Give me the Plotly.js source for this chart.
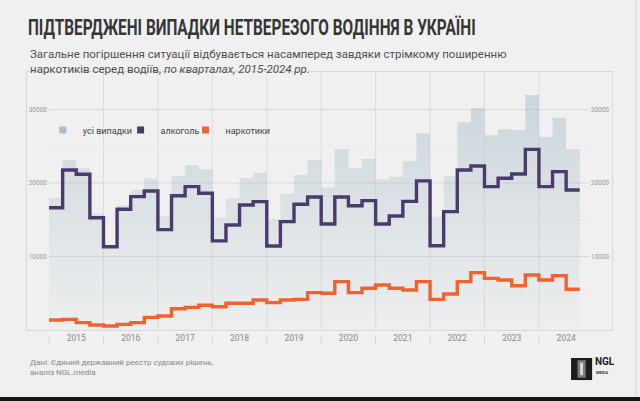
<!DOCTYPE html>
<html><head><meta charset="utf-8">
<script src="https://cdn.plot.ly/plotly-3.0.1.min.js"></script>
<style>html,body{margin:0;padding:0;background:#f0f0f0;} #chart{width:640px;height:401px;}
#chart .gtitle{transform:scaleX(0.70);transform-origin:28px 0px;}
</style>
</head><body><div id="chart"></div>
<script>
const years = ['2015','2016','2017','2018','2019','2020','2021','2022','2023','2024'];
const seriesNames = ['усі випадки', 'алкоголь', 'наркотики'];
// quarterly values, 2015 Q1 ... 2024 Q3
const totalCases = [17950, 23130, 22000, 15870, 11500, 17000, 19050, 20600, 15510, 20950, 22450, 21860,
  15300, 17920, 20640, 21400, 15060, 18550, 21090, 23130, 19410, 24630, 22000, 23270,
  20500, 20860, 22990, 26760, 15400, 20950, 28250, 30160, 26480, 27320, 27210, 31970,
  26300, 28890, 24580];
const alcohol = [16640, 21770, 21180, 15280, 11330, 16420, 18140, 18910, 13650, 18270, 19500, 18600,
  12130, 14290, 17010, 17460, 11430, 14740, 17100, 18100, 14420, 18100, 16900, 17600,
  14420, 15510, 17500, 20290, 11470, 16100, 21770, 22310, 19500, 20640, 21220, 24580,
  19500, 21540, 19050];
const drugs = [1360, 1450, 1000, 680, 540, 770, 1000, 1720, 1900, 2900, 3080, 3360,
  3170, 3630, 3630, 4080, 3720, 4080, 4170, 5080, 4990, 6580, 5080, 5670,
  6120, 5670, 5440, 6580, 4170, 4900, 6580, 7800, 7030, 6800, 6030, 7480,
  6800, 7390, 5540];
const yTicks = [10000, 20000, 30000];
const yMinorTicks = [5000, 15000, 25000];

const QPY = 4;
const stepX = arr => arr.map((_, i) => i).concat([arr.length]);
const stepY = arr => arr.concat([arr[arr.length - 1]]);

const colTotal = '#a9bdc7', colAlc = '#4b3b6c', colDrug = '#f2622e';
const sans = 'Roboto, "Noto Sans", sans-serif';

const traces = [
  {type: 'scatter', mode: 'lines', x: stepX(totalCases), y: stepY(totalCases), line: {shape: 'hv', width: 0},
   fill: 'tozeroy', fillgradient: {type: 'vertical', start: 0, stop: 32000,
     colorscale: [[0, 'rgba(160,185,196,0.03)'], [0.5, 'rgba(160,185,196,0.24)'], [1, 'rgba(160,185,196,0.46)']]},
   showlegend: false, hoverinfo: 'skip'},
  {type: 'scatter', mode: 'lines', x: stepX(alcohol), y: stepY(alcohol), line: {shape: 'hv', width: 3.4, color: colAlc},
   showlegend: false, hoverinfo: 'skip'},
  {type: 'scatter', mode: 'lines', x: stepX(drugs), y: stepY(drugs), line: {shape: 'hv', width: 3.4, color: colDrug},
   showlegend: false, hoverinfo: 'skip'}
];
const legendIds = ['legend', 'legend2', 'legend3'];
[colTotal, colAlc, colDrug].forEach((c, k) => traces.push({type: 'scatter', mode: 'markers', x: [null], y: [null],
  name: seriesNames[k], legend: legendIds[k], marker: {symbol: 'square', size: 7, color: c}, showlegend: true}));

const nQ = totalCases.length;
const shapes = [];
years.slice(1).forEach((_, k) => shapes.push({type: 'line', xref: 'x', yref: 'paper', x0: (k + 1) * QPY, x1: (k + 1) * QPY,
  y0: 0, y1: 1, line: {color: '#dcdcdc', width: 1}, layer: 'below'}));
years.forEach((_, k) => shapes.push({type: 'line', xref: 'x', yref: 'paper', x0: k * QPY, x1: k * QPY,
  y0: -0.023, y1: -0.05, line: {color: '#d0d0d0', width: 1}}));
yTicks.forEach(v => shapes.push({type: 'line', xref: 'x', yref: 'y', x0: 0, x1: nQ + 0.7, y0: v, y1: v,
  line: {color: '#dadada', width: 1}, layer: 'below'}));
yMinorTicks.forEach(v => shapes.push({type: 'line', xref: 'x', yref: 'y', x0: 0, x1: nQ + 0.7, y0: v, y1: v,
  line: {color: '#e4e4e4', width: 1, dash: '4px,4px'}, layer: 'below'}));
// frame edges of the picture
shapes.push({type: 'rect', xref: 'paper', yref: 'paper', x0: -0.05, x1: 1.05, y0: -0.26, y1: -0.3, fillcolor: '#151515', line: {width: 0}});
shapes.push({type: 'line', xref: 'paper', yref: 'paper', x0: 1.041, x1: 1.041, y0: -0.26, y1: 1.3, line: {color: '#d6d6d6', width: 1}});
// logo
shapes.push({type: 'rect', xref: 'paper', yref: 'paper', x0: 0.930, x1: 0.966, y0: -0.194, y1: -0.1085, fillcolor: '#1c1c1c', line: {width: 0}});
shapes.push({type: 'rect', xref: 'paper', yref: 'paper', x0: 0.941, x1: 0.955, y0: -0.185, y1: -0.117, fillcolor: '#7a7a7a', line: {width: 0}});
shapes.push({type: 'rect', xref: 'paper', yref: 'paper', x0: 0.9455, x1: 0.9505, y0: -0.175, y1: -0.127, fillcolor: '#d8d8d8', line: {width: 0}});

const legendBase = {orientation: 'h', xanchor: 'left', y: 0.775, yanchor: 'middle', bgcolor: 'rgba(0,0,0,0)',
  font: {family: sans, size: 9, color: '#444'}, itemclick: false, itemdoubleclick: false};
const legendX = [0.027, 0.160, 0.271];

const layout = {
  width: 640, height: 401,
  margin: {l: 27, r: 28, t: 72, b: 71},
  paper_bgcolor: '#f0f0f0', plot_bgcolor: '#f0f0f0',
  title: {text: 'ПІДТВЕРДЖЕНІ ВИПАДКИ НЕТВЕРЕЗОГО ВОДІННЯ В УКРАЇНІ', x: 28 / 640, xanchor: 'left',
    yref: 'container', y: 1 - 27 / 401, yanchor: 'middle',
    font: {family: sans, size: 22, weight: 700, color: '#363636'}},
  xaxis: {range: [-1.62, 41.37], tickvals: years.map((_, k) => k * QPY + 2), ticktext: years,
    showgrid: false, zeroline: false, ticks: '', showline: true, mirror: true, linecolor: '#d8d8d8', linewidth: 1,
    tickfont: {family: sans, size: 8.5, color: '#8a8a8a'}, fixedrange: true},
  yaxis: {range: [0, 35100], tickvals: yTicks, ticktext: yTicks.map(String), ticklabelposition: 'inside',
    showgrid: false, zeroline: false, ticks: '', showline: true, mirror: true, linecolor: '#d8d8d8', linewidth: 1,
    tickfont: {family: sans, size: 6.5, color: '#999'}, fixedrange: true},
  yaxis2: {range: [0, 35100], overlaying: 'y', side: 'right', matches: 'y', tickvals: yTicks, ticktext: yTicks.map(String),
    ticklabelposition: 'inside', showgrid: false, zeroline: false, ticks: '', showline: false,
    tickfont: {family: sans, size: 6.5, color: '#999'}, fixedrange: true},
  legend: Object.assign({}, legendBase, {x: legendX[0]}),
  legend2: Object.assign({}, legendBase, {x: legendX[1]}),
  legend3: Object.assign({}, legendBase, {x: legendX[2]}),
  shapes: shapes,
  annotations: [
    {xref: 'paper', yref: 'paper', x: 0.0017, xanchor: 'left', y: 1.0426, yanchor: 'middle', align: 'left', showarrow: false,
     text: 'Загальне погіршення ситуації відбувається насамперед завдяки стрімкому поширенню<br>наркотиків серед водіїв, <i>по кварталах, 2015-2024 рр.</i>',
     font: {family: sans, size: 11.5, color: '#505050'}},
    {xref: 'paper', yref: 'paper', x: 0.0017, xanchor: 'left', y: -0.147, yanchor: 'middle', align: 'left', showarrow: false,
     text: 'Дані: Єдиний державний реєстр судових рішень,<br>аналіз NGL.media',
     font: {family: sans, size: 8, color: '#888'}},
    {xref: 'paper', yref: 'paper', x: 0.9675, xanchor: 'left', y: -0.124, yanchor: 'middle', showarrow: false,
     text: 'NGL', font: {family: sans, size: 10, weight: 700, color: '#222'}},
    {xref: 'paper', yref: 'paper', x: 0.969, xanchor: 'left', y: -0.163, yanchor: 'middle', showarrow: false,
     text: 'MEDIA', font: {family: sans, size: 4, weight: 700, color: '#333'}}
  ]
};
traces.push({type: 'scatter', mode: 'lines', x: [null], y: [null], yaxis: 'y2', showlegend: false, hoverinfo: 'skip'});
Plotly.newPlot('chart', traces, layout, {displayModeBar: false, staticPlot: true});
</script></body></html>
